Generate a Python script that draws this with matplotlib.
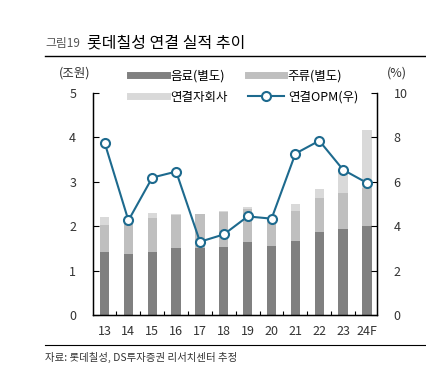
import matplotlib.pyplot as plt
from matplotlib.lines import Line2D

plt.rcParams['font.family'] = ['Noto Sans CJK KR', 'DejaVu Sans']

years = ['13', '14', '15', '16', '17', '18', '19', '20', '21', '22', '23', '24F']
beverage = [1.43, 1.38, 1.43, 1.52, 1.50, 1.54, 1.64, 1.55, 1.67, 1.86, 1.94, 2.00]
liquor = [0.59, 0.68, 0.75, 0.74, 0.77, 0.78, 0.74, 0.60, 0.67, 0.77, 0.81, 0.85]
subsid = [0.19, 0.00, 0.11, 0.01, 0.00, 0.03, 0.06, 0.00, 0.16, 0.21, 0.47, 1.31]
opm = [7.77, 4.26, 6.19, 6.46, 3.30, 3.63, 4.44, 4.34, 7.27, 7.85, 6.54, 5.95]

c_bev = '#808080'
c_liq = '#BFBFBF'
c_sub = '#D9D9D9'
c_line = '#1D6A8E'

fig = plt.figure(figsize=(4.26, 3.75), dpi=100)
ax = fig.add_axes([0.218, 0.16, 0.667, 0.592])
x = list(range(len(years)))
w = 0.39

bottom2 = [a + b for a, b in zip(beverage, liquor)]
ax.bar(x, beverage, width=w, color=c_bev, zorder=2)
ax.bar(x, liquor, width=w, bottom=beverage, color=c_liq, zorder=2)
ax.bar(x, subsid, width=w, bottom=bottom2, color=c_sub, zorder=2)

ax.set_ylim(0, 5)
ax.set_xlim(-0.49, 11.42)
ax.set_yticks([0, 1, 2, 3, 4, 5])
ax.set_xticks(x)
ax.set_xticklabels(years)
ax.set_xticks([i + 0.5 for i in range(len(years) - 1)], minor=True)
ax.tick_params(axis='x', which='major', length=0, pad=7, labelsize=9, labelcolor='#333333')
ax.tick_params(axis='x', which='minor', direction='in', length=3, width=0.8)
ax.tick_params(axis='y', direction='in', length=4, width=0.8, pad=12, labelsize=9, labelcolor='#333333')
ax.spines['top'].set_visible(False)
for s in ['left', 'bottom', 'right']:
    ax.spines[s].set_linewidth(1.0)

ax2 = ax.twinx()
ax2.plot(x, opm, color=c_line, lw=1.5, marker='o', markersize=6.5,
         markerfacecolor='white', markeredgecolor=c_line, markeredgewidth=1.5, zorder=3)
ax2.set_ylim(0, 10)
ax2.set_yticks([0, 2, 4, 6, 8, 10])
ax2.tick_params(axis='y', direction='in', length=4, width=0.8, pad=12, labelsize=9, labelcolor='#333333')
ax2.spines['top'].set_visible(False)

fig.text(0.176, 0.805, '(조원)', fontsize=9, color='#333333', ha='center', va='center')
fig.text(0.932, 0.805, '(%)', fontsize=9, color='#333333', ha='center', va='center')

handles = [
    Line2D([], [], color=c_bev, lw=5),
    Line2D([], [], color=c_sub, lw=5),
    Line2D([], [], color=c_liq, lw=5),
    Line2D([], [], color=c_line, lw=1.5, marker='o', markersize=6.5,
           markerfacecolor='white', markeredgewidth=1.5),
]
labels = ['음료(별도)', '연결자회사', '주류(별도)', '연결OPM(우)']
fig.legend(handles, labels, ncol=2, loc='upper left', bbox_to_anchor=(0.306, 0.815),
           frameon=False, fontsize=9, handlelength=2.9, handletextpad=0.3,
           columnspacing=1.6, labelspacing=0.65, borderaxespad=0, borderpad=0)

# header and footer
fig.text(0.106, 0.885, '그림19', fontsize=8.5, color='#555555', va='center')
fig.text(0.205, 0.885, '롯데칠성 연결 실적 추이', fontsize=11.5, color='black', va='center')
fig.add_artist(Line2D([0.106, 1.0], [0.851, 0.851], color='black', lw=1.0))
fig.add_artist(Line2D([0.106, 1.0], [0.08, 0.08], color='black', lw=0.8))
fig.text(0.106, 0.048, '자료: 롯데칠성, DS투자증권 리서치센터 추정', fontsize=7.5, color='#333333', va='center')

fig.savefig('out.png', dpi=100)
